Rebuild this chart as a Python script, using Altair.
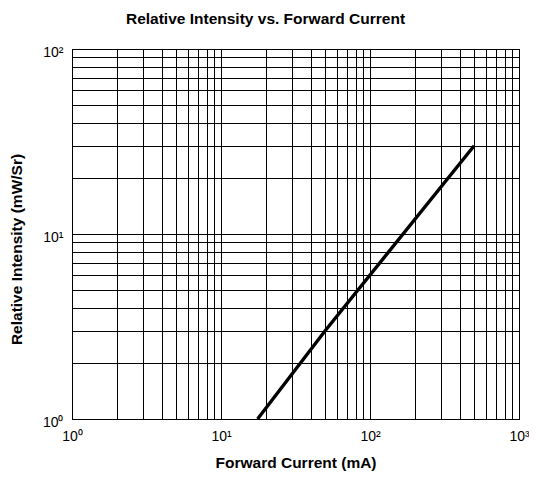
import altair as alt
import pandas as pd

current_ma = [17.6, 50, 500]
intensity = [1.0, 3.0, 30.0]

x_grid = [m * 10 ** e for e in range(3) for m in range(1, 10)] + [1000]
y_grid = [m * 10 ** e for e in range(2) for m in range(1, 10)] + [100]

df = pd.DataFrame({"current": current_ma, "intensity": intensity})

label_expr = ("indexof([1,10,100,1000], datum.value) >= 0 ? "
              "'10' + ['\u2070','\u00b9','\u00b2','\u00b3'][round(log(datum.value)/LN10)] : ''")

font = "Liberation Sans"

chart = alt.Chart(df).mark_line(color="black", strokeWidth=3.4).encode(
    x=alt.X("current:Q",
            scale=alt.Scale(type="log", domain=[1, 1000], nice=False),
            axis=alt.Axis(values=x_grid, labelExpr=label_expr, title="Forward Current (mA)",
                          grid=True, ticks=False, labelPadding=10, titlePadding=12)),
    y=alt.Y("intensity:Q",
            scale=alt.Scale(type="log", domain=[1, 100], nice=False),
            axis=alt.Axis(values=y_grid, labelExpr=label_expr, title="Relative Intensity (mW/Sr)",
                          grid=True, ticks=False, labelPadding=9, labelOffset=3,
                          titlePadding=18, titleY=200)),
).properties(
    width=447, height=370,
    title=alt.Title("Relative Intensity vs. Forward Current", font=font, fontSize=15.5,
                    fontWeight="bold", color="black", offset=18, dx=-30),
    autosize=alt.AutoSizeParams(type="none"),
    padding={"left": 64, "top": 41, "right": 10, "bottom": 53},
).configure_axis(
    gridColor="black", gridOpacity=1, gridWidth=1,
    domainColor="black", domainWidth=1,
    labelFont=font, labelFontSize=14, labelColor="black",
    titleFont=font, titleFontSize=15.5, titleFontWeight="bold", titleColor="black",
    labelFlush=False, labelOverlap=False,
).configure_view(stroke="black", strokeWidth=1)

chart.save("out.html", embed_options={"renderer": "svg", "actions": False})
